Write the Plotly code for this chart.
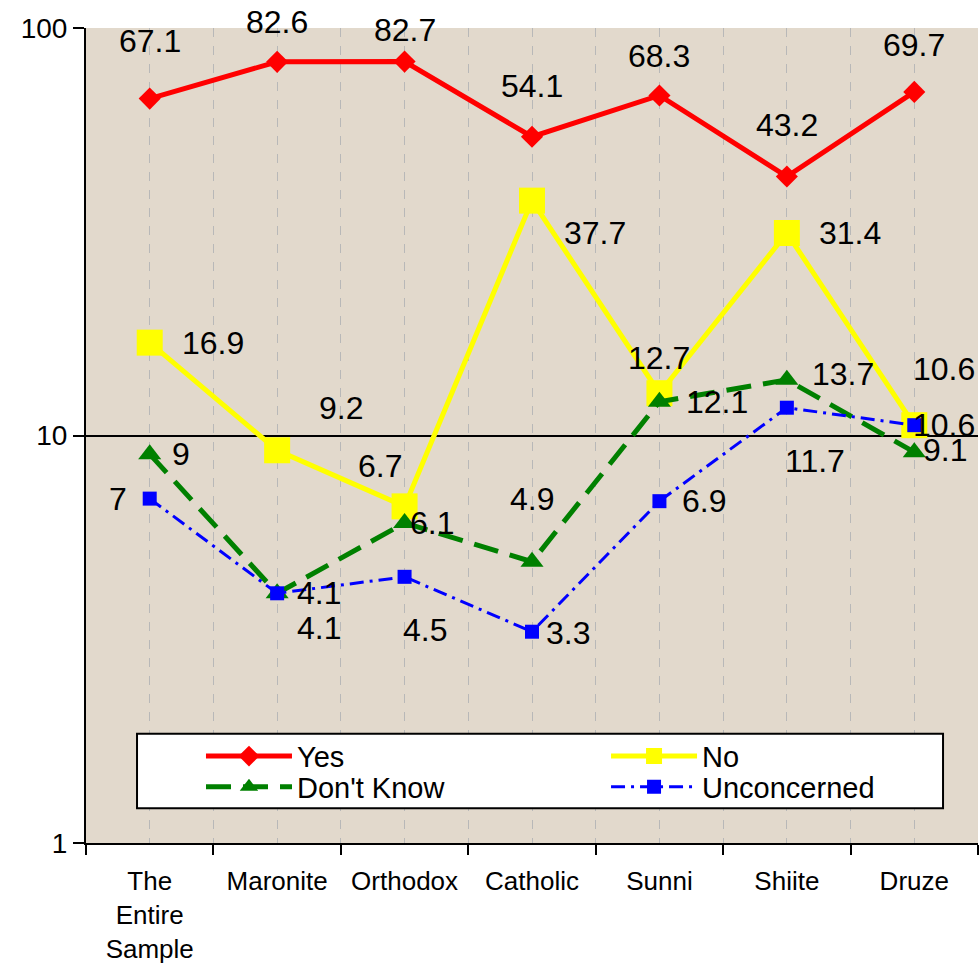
import math
import plotly.graph_objects as go

categories = ["The<br>Entire<br>Sample", "Maronite", "Orthodox", "Catholic", "Sunni", "Shiite", "Druze"]
yes_vals = [67.1, 82.6, 82.7, 54.1, 68.3, 43.2, 69.7]
no_vals = [16.9, 9.2, 6.7, 37.7, 12.7, 31.4, 10.6]
dontknow_vals = [9, 4.1, 6.1, 4.9, 12.1, 13.7, 9.1]
unconcerned_vals = [7, 4.1, 4.5, 3.3, 6.9, 11.7, 10.6]
y_tick_vals = [1, 10, 100]

# label offsets in pixels (dx, dy) relative to each point (screen: +y down)
yes_off = [(0, -58), (0, -40), (0, -32), (0, -51), (0, -39), (0, -52), (0, -47)]
no_off = [(63, 0), (64, -42), (-25, -40), (63, 32), (0, -35), (63, 0), (30, -56)]
dk_off = [(31, 0), (42, 0), (27, 0), (0, -63), (58, 0), (56, -6), (31, -2)]
un_off = [(-32, 0), (42, 35), (20, 53), (36, 1), (45, 0), (28, 53), (30, 0)]

xs = list(range(len(categories)))
FONT = "Liberation Sans, Arial"

fig = go.Figure()
series = [
    ("Yes", yes_vals, dict(color="#FF0000", width=5), dict(symbol="diamond", size=17, color="#FF0000"), yes_off, "legend"),
    ("No", no_vals, dict(color="#FFFF00", width=5), dict(symbol="square", size=26, color="#FFFF00"), no_off, "legend2"),
    ("Don't Know", dontknow_vals, dict(color="#008000", width=5, dash="25px,12px"), dict(symbol="triangle-up", size=20, color="#008000"), dk_off, "legend3"),
    ("Unconcerned", unconcerned_vals, dict(color="#0000FF", width=3, dash="14px,6px,3px,6px"), dict(symbol="square", size=14, color="#0000FF"), un_off, "legend4"),
]
for name, vals, line, marker, offs, lg in series:
    fig.add_trace(go.Scatter(x=xs, y=vals, name=name, mode="lines+markers", line=line, marker=marker, legend=lg))

for name, vals, line, marker, offs, lg in series:
    for i, v in enumerate(vals):
        dx, dy = offs[i]
        fig.add_annotation(x=xs[i], y=math.log10(v), yref="y", xref="x", text=f"{v:g}", showarrow=False,
                           xshift=dx, yshift=-dy, font=dict(size=32, color="black", family=FONT))

# legend frame
fig.add_shape(type="rect", xref="paper", yref="paper", x0=0.0572, x1=0.9608, y0=0.0425, y1=0.134,
              fillcolor="white", line=dict(color="black", width=2), layer="above")

legend_common = dict(
    orientation="h", xanchor="left", yanchor="middle",
    bgcolor="rgba(0,0,0,0)", borderwidth=0,
    font=dict(size=29, family=FONT), itemwidth=86,
)
col_x = [0.1289, 0.583]
row_y = [0.1065, 0.0687]

fig.update_layout(
    width=979, height=965,
    margin=dict(l=86, r=1, t=28, b=116),
    paper_bgcolor="white",
    plot_bgcolor="#E2D9CC",
    font=dict(family=FONT, color="black"),
    showlegend=True,
    legend=dict(x=col_x[0], y=row_y[0], **legend_common),
    legend2=dict(x=col_x[1], y=row_y[0], **legend_common),
    legend3=dict(x=col_x[0], y=row_y[1], **legend_common),
    legend4=dict(x=col_x[1], y=row_y[1], **legend_common),
)
fig.update_xaxes(
    range=[-0.5, 6.5], tickvals=xs, ticktext=categories, ticks="", ticklabelstandoff=14,
    tickfont=dict(size=26, family=FONT), showgrid=True, gridcolor="#B8B8B8", griddash="dash", gridwidth=1,
    showline=True, linecolor="black", linewidth=2, zeroline=False,
    minor=dict(tickvals=[i - 0.5 for i in range(len(categories) + 1)], ticks="outside", ticklen=10,
               tickcolor="black", tickwidth=2, showgrid=True, gridcolor="#B8B8B8", griddash="dash"),
)
fig.update_yaxes(
    type="log", range=[0, 2], tickvals=y_tick_vals, ticktext=[str(v) for v in y_tick_vals],
    ticks="outside", ticklen=11, tickcolor="black", tickwidth=2, tickfont=dict(size=28, family=FONT),
    showgrid=True, gridcolor="black", gridwidth=2, showline=True, linecolor="black", linewidth=2,
    zeroline=False,
)
fig.write_html("out.html", post_script="document.body.style.margin='0';",
               config={"displayModeBar": False})
